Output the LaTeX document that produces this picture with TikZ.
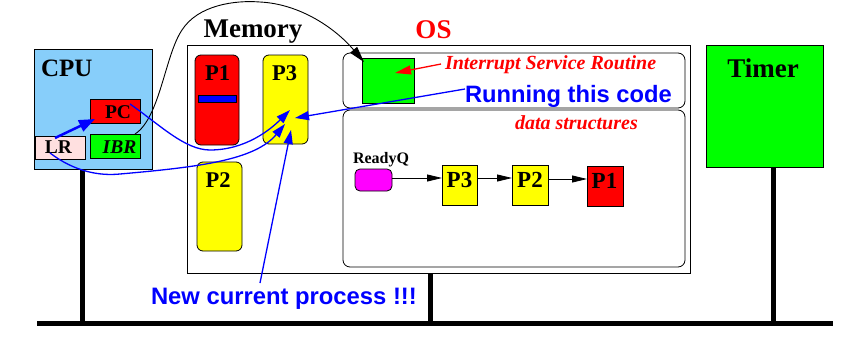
\documentclass[tikz,border=0pt]{standalone}
\usepackage{fontspec}
\setmainfont{Liberation Serif}
\newfontfamily\helv{Liberation Sans}
\usetikzlibrary{arrows.meta}
\definecolor{cpublue}{RGB}{135,206,250}
\definecolor{lrpink}{RGB}{255,224,224}
\definecolor{pgreen}{RGB}{0,255,0}
\definecolor{pred}{RGB}{255,0,0}
\definecolor{pyellow}{RGB}{255,255,0}
\definecolor{pmag}{RGB}{255,0,255}
\definecolor{pblue}{RGB}{0,0,255}
\tikzset{
  box/.style={draw=black,line width=0.8pt,inner sep=0pt,outer sep=0pt},
  rbox/.style={box,rounded corners=6pt},
  lbl/.style={inner sep=0pt,outer sep=0pt,anchor=base,font=\bfseries\fontsize{#1}{#1}\selectfont},
  bus/.style={line width=5pt},
  bluearr/.style={draw=pblue,line width=1.3pt,-{Triangle[length=14pt,width=9pt]}},
  qarr/.style={draw=black,line width=0.8pt,-{Triangle[length=15pt,width=7pt]}},
}
\begin{document}
\begin{tikzpicture}[x=1pt,y=-1pt]
\useasboundingbox (0,0) rectangle (854,364);
% bus
\coordinate (busL) at (37,323);
\coordinate (busR) at (833,323);
\coordinate (b1) at (82,323);
\coordinate (b2) at (430,323);
\coordinate (b3) at (773,323);
\draw[bus] (busL) -- (busR);
% CPU
\node[box,fill=cpublue,minimum width=118pt,minimum height=120pt] (cpu) at (93,109) {};
\node[lbl=25,anchor=base west] (cputxt) at (41,76) {CPU};
\node[box,fill=pred,minimum width=50pt,minimum height=24pt] (pc) at (115,111) {};
\node[lbl=19.5] (pctxt) at (118,118) {PC};
\node[box,fill=pgreen,minimum width=50pt,minimum height=24pt] (ibr) at (115,146) {};
\node[lbl=19.5] (ibrtxt) at (119.5,153) {\itshape IBR};
\node[box,fill=lrpink,minimum width=50pt,minimum height=23pt] (lr) at (60,147.5) {};
\node[lbl=19.5] (lrtxt) at (58.5,153) {LR};
\draw[bus] (cpu.south -| b1) -- (b1);
% Memory
\node[box,minimum width=503pt,minimum height=228pt] (mem) at (438.5,159) {};
\node[lbl=27] (memtxt) at (253,37) {Memory};
\node[lbl=27,text=pred] (ostxt) at (433.5,38) {OS};
\draw[bus] (mem.south -| b2) -- (b2);
\node[rbox,fill=pred,minimum width=44pt,minimum height=90pt] (mp1) at (217,100) {};
\node[lbl=22.5] (mp1txt) at (217.5,80) {P1};
\node[box,fill=pblue,minimum width=38pt,minimum height=7pt] (bar) at (217,98.5) {};
\node[rbox,fill=pyellow,minimum width=45pt,minimum height=89pt] (mp3) at (285.5,99.5) {};
\node[lbl=22.5] (mp3txt) at (284.5,80) {P3};
\node[rbox,fill=pyellow,minimum width=45pt,minimum height=89pt] (mp2) at (219.5,206.5) {};
\node[lbl=22.5] (mp2txt) at (218,187) {P2};
% OS areas
\node[box,rounded corners=7pt,minimum width=342pt,minimum height=55pt] (ostop) at (514,80.5) {};
\node[box,rounded corners=7pt,minimum width=342pt,minimum height=157pt] (osbot) at (514,188.5) {};
\node[box,fill=pgreen,minimum width=52pt,minimum height=45pt] (isr) at (388,80.5) {};
\node[lbl=20,text=pred,anchor=base west] (isrtxt) at (445,69) {\itshape Interrupt Service Routine};
\node[lbl=20,text=pred,anchor=base west] (dstxt) at (515,129) {\itshape data structures};
\node[lbl=23.7,text=pblue,anchor=base west] (runtxt) at (465,102) {\helv Running this code};
\node[lbl=23.8,text=pblue,anchor=base west] (newtxt) at (151,304) {\helv New current process !!!};
% ReadyQ
\node[lbl=16,anchor=base west] (rqtxt) at (353,163) {ReadyQ};
\node[box,rounded corners=5pt,fill=pmag,minimum width=37pt,minimum height=22pt] (mq) at (373.5,180) {};
\node[box,fill=pyellow,minimum width=35pt,minimum height=40pt] (qp3) at (459.5,185) {};
\node[lbl=23] (qp3txt) at (459.5,187) {P3};
\node[box,fill=pyellow,minimum width=36pt,minimum height=40pt] (qp2) at (530,185) {};
\node[lbl=23] (qp2txt) at (530,187) {P2};
\node[box,fill=pred,minimum width=36pt,minimum height=40pt] (qp1) at (605,186) {};
\node[lbl=23] (qp1txt) at (604.5,188) {P1};
\coordinate (q1) at (392,178);
\coordinate (q2) at (442,178);
\coordinate (q3) at (477,178);
\coordinate (q4) at (512,178);
\coordinate (q5) at (548,179);
\coordinate (q6) at (587,179);
\draw[qarr] (q1) -- (q2);
\draw[qarr] (q3) -- (q4);
\draw[qarr] (q5) -- (q6);
% Timer
\node[box,fill=pgreen,minimum width=117pt,minimum height=122pt] (timer) at (764.5,106) {};
\node[lbl=27] (timertxt) at (763,77) {Timer};
\draw[bus] (timer.south -| b3) -- (b3);
% connectors
\coordinate (ibrs) at (135,134);
\coordinate (isrtip) at (364,62);
\draw[line width=0.9pt,-{Triangle[length=16pt,width=9pt]}] (ibrs) .. controls (160,118) and (165,55) .. (182,30) .. controls (198,5) and (235,0) .. (260,2) .. controls (300,4) and (335,28) .. (isrtip);
\coordinate (isra) at (441,64);
\coordinate (isrb) at (395,73);
\draw[draw=pred,line width=1.3pt,-{Triangle[length=16pt,width=9pt]}] (isra) -- (isrb);
\coordinate (runa) at (465,89);
\coordinate (p3a) at (295,118);
\draw[bluearr] (runa) -- (p3a);
\coordinate (newa) at (260,283);
\coordinate (p3c) at (291,130);
\draw[bluearr] (newa) -- (p3c);
\coordinate (pcs) at (130,104);
\coordinate (p3b) at (290,110);
\draw[bluearr] (pcs) .. controls (160,125) and (185,150) .. (210,150) .. controls (245,150) and (270,130) .. (p3b);
\coordinate (lrs) at (50,153);
\coordinate (p3d) at (285,124);
\draw[bluearr] (lrs) .. controls (75,172) and (100,176) .. (120,174) .. controls (200,167) and (255,160) .. (p3d);
\coordinate (lra) at (55,138);
\coordinate (pct) at (95,119);
\draw[draw=pblue,line width=2.5pt,-{Triangle[length=16pt,width=12pt]}] (lra) -- (pct);
\end{tikzpicture}
\end{document}
